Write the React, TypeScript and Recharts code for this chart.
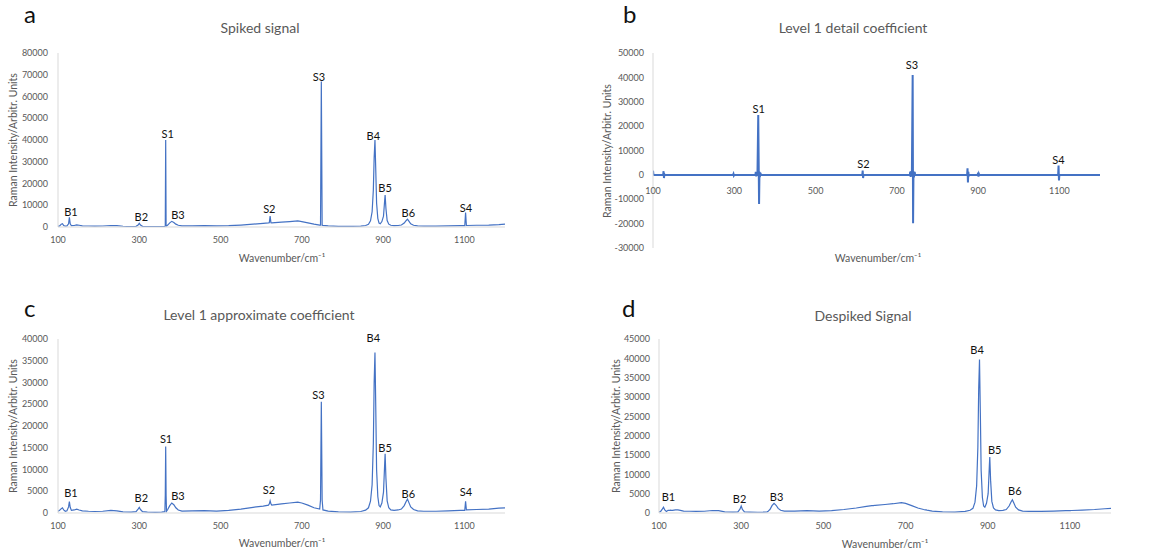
import { LineChart, Line, XAxis, YAxis, ReferenceDot, ReferenceLine } from 'recharts';

const FONT = 'Lato, "Open Sans", sans-serif';
const LINE_COLOR = '#4472C4';
const TEXT_GRAY = '#595959';
const AXIS_GRAY = '#d9d9d9';

// shared wavenumber grid for the spiked / approximate / despiked spectra
const wavenumber = [
  100, 104, 108, 111, 114, 118, 122, 126, 128, 130,
  133, 140, 146, 152, 160, 175, 190, 210, 230, 245,
  260, 280, 292, 297, 300, 303, 308, 320, 340, 355,
  363, 364, 365, 366, 367, 370, 375, 380, 385, 390,
  396, 405, 430, 460, 490, 520, 550, 580, 605, 618,
  620, 622, 624, 626, 650, 670, 690, 700, 715, 730,
  744, 746, 748, 750, 752, 765, 790, 820, 845, 857,
  864, 869, 873, 876, 878, 880, 882, 884, 887, 890,
  893, 897, 901, 904, 905, 907, 910, 914, 919, 927,
  937, 945, 952, 957, 960, 963, 968, 975, 985, 1000,
  1030, 1060, 1090, 1101, 1103, 1105, 1130, 1160, 1185, 1200,
];

const spiked = [
  300, 500, 1300, 1500, 700, 400, 500, 1500, 4400, 1500,
  600, 700, 1000, 800, 500, 450, 400, 450, 700, 650,
  350, 200, 300, 900, 1700, 900, 300, 200, 150, 200,
  300, 500, 40000, 500, 400, 900, 1900, 2600, 2100, 1300,
  800, 500, 550, 600, 500, 600, 900, 1300, 1700, 1900,
  2000, 5000, 2000, 1900, 2200, 2500, 2800, 2500, 1900, 1300,
  900, 850, 66900, 800, 750, 500, 300, 250, 400, 700,
  1200, 2800, 7000, 17000, 32000, 40000, 26000, 11000, 4000, 1800,
  1500, 2500, 5000, 12500, 14700, 8500, 3000, 1300, 800, 600,
  700, 900, 1800, 3000, 3600, 2800, 1500, 800, 500, 400,
  400, 500, 600, 600, 6600, 700, 800, 900, 1100, 1300,
];

const approx = [
  400, 600, 1000, 1200, 700, 400, 500, 1400, 2600, 1300,
  600, 700, 900, 700, 500, 400, 350, 400, 600, 500,
  250, 200, 300, 900, 1300, 800, 300, 200, 150, 200,
  300, 4000, 15300, 4000, 400, 800, 1700, 2300, 1900, 1200,
  700, 450, 500, 550, 450, 600, 900, 1300, 1600, 1800,
  2100, 2800, 2100, 1800, 2100, 2300, 2500, 2300, 1800, 1200,
  900, 3000, 25600, 3000, 700, 450, 250, 200, 350, 650,
  1200, 2700, 6500, 16000, 30000, 36900, 24000, 10000, 3800, 1700,
  1400, 2300, 4800, 11500, 13600, 8000, 2800, 1200, 700, 600,
  700, 900, 1700, 2700, 3200, 2500, 1400, 800, 500, 400,
  400, 500, 600, 600, 2700, 700, 800, 900, 1100, 1200,
];

const despiked = [
  300, 400, 1000, 1500, 800, 400, 700, 700, 750, 700,
  700, 800, 800, 700, 500, 450, 400, 450, 650, 600,
  300, 250, 300, 1000, 1800, 900, 300, 250, 200, 250,
  300, 350, 400, 500, 600, 900, 1900, 2500, 2000, 1200,
  700, 500, 500, 600, 500, 600, 900, 1300, 1700, 1900,
  1900, 1900, 2000, 1950, 2200, 2400, 2700, 2500, 1900, 1300,
  900, 850, 800, 800, 750, 500, 300, 250, 400, 700,
  1200, 2800, 7000, 17000, 32000, 39700, 26000, 11000, 4000, 1800,
  1500, 2500, 5000, 12300, 14500, 8500, 3000, 1300, 800, 600,
  700, 900, 1800, 2900, 3400, 2700, 1500, 800, 500, 400,
  400, 500, 600, 600, 650, 650, 750, 900, 1100, 1200,
];

// level 1 detail coefficient has its own grid
const detailWavenumber = [
  100, 101, 103, 125, 126, 127, 128, 129,
  297, 298, 299, 300,
  352, 353, 354, 355, 357, 359, 361, 362, 363, 364, 366,
  615, 616, 617, 618,
  732, 733, 734, 735, 737, 739, 740, 741, 742, 744, 745,
  873, 874, 875, 876, 877, 878,
  899, 900, 901, 902, 903,
  1097, 1098, 1099, 1100,
  1200,
];

const detail = [
  1700, 200, 0, 0, 1500, -1300, 300, 0,
  0, 400, -300, 0,
  0, 1200, -600, 900, -400, 24600, -11900, 1200, -900, 800, 0,
  0, 1800, -1300, 0,
  0, 1300, -800, 1500, -600, 41000, -19800, 1500, -1000, 1200, 0,
  0, 2700, -3100, 1200, -600, 0,
  0, 900, -700, 400, 0,
  0, 3800, -2300, 0,
  0,
];

const xTicks = [100, 300, 500, 700, 900, 1100];
const spikedTicks = [0, 10000, 20000, 30000, 40000, 50000, 60000, 70000, 80000];
const detailTicks = [-30000, -20000, -10000, 0, 10000, 20000, 30000, 40000, 50000];
const approxTicks = [0, 5000, 10000, 15000, 20000, 25000, 30000, 35000, 40000];
const despikedTicks = [0, 5000, 10000, 15000, 20000, 25000, 30000, 35000, 40000, 45000];

type PeakLabel = { name: string; x: number; y: number };

const spikedLabels: PeakLabel[] = [
  { name: 'B1', x: 132, y: 6900 },
  { name: 'B2', x: 305, y: 4750 },
  { name: 'S1', x: 370, y: 42700 },
  { name: 'B3', x: 395, y: 5500 },
  { name: 'S2', x: 620, y: 8150 },
  { name: 'S3', x: 742, y: 68800 },
  { name: 'B4', x: 876, y: 41900 },
  { name: 'B5', x: 905, y: 17800 },
  { name: 'B6', x: 962, y: 6300 },
  { name: 'S4', x: 1104, y: 8900 },
];

const detailLabels: PeakLabel[] = [
  { name: 'S1', x: 360, y: 26900 },
  { name: 'S2', x: 618, y: 4500 },
  { name: 'S3', x: 737, y: 45000 },
  { name: 'S4', x: 1098, y: 5900 },
];

const approxLabels: PeakLabel[] = [
  { name: 'B1', x: 132, y: 4530 },
  { name: 'B2', x: 305, y: 3520 },
  { name: 'S1', x: 366, y: 17000 },
  { name: 'B3', x: 395, y: 3900 },
  { name: 'S2', x: 619, y: 5300 },
  { name: 'S3', x: 741, y: 27000 },
  { name: 'B4', x: 876, y: 40300 },
  { name: 'B5', x: 905, y: 15000 },
  { name: 'B6', x: 962, y: 4370 },
  { name: 'S4', x: 1104, y: 4900 },
];

const despikedLabels: PeakLabel[] = [
  { name: 'B1', x: 123, y: 4200 },
  { name: 'B2', x: 296, y: 3600 },
  { name: 'B3', x: 386, y: 4200 },
  { name: 'B4', x: 874, y: 42150 },
  { name: 'B5', x: 917, y: 16300 },
  { name: 'B6', x: 966, y: 5700 },
];

const tickStyle = { fill: TEXT_GRAY, fontSize: 9, fontFamily: FONT };

// x tick labels that sit just under the zero line (panel b)
const ZeroLineTick = (props: any) => {
  const { x, y, payload } = props;
  return (
    <text x={x} y={y - 64} textAnchor="middle" fill={TEXT_GRAY} fontSize={9} fontFamily={FONT}>
      {payload.value}
    </text>
  );
};

type PanelProps = {
  left: number;
  top: number;
  width: number;
  height: number;
  margin: { top: number; right: number; bottom: number; left: number };
  yAxisWidth: number;
  xAxisHeight: number;
  xs: number[];
  ys: number[];
  yDomain: [number, number];
  yTicks: number[];
  labels: PeakLabel[];
  strokeWidth: number;
  zeroAxis?: boolean;
  yTickMargin: number;
};

function Panel(p: PanelProps) {
  const data = p.xs.map((w, i) => ({ w, v: p.ys[i] }));
  return (
    <div style={{ position: 'absolute', left: p.left, top: p.top }}>
      <LineChart width={p.width} height={p.height} data={data} margin={p.margin}>
        <XAxis
          dataKey="w"
          type="number"
          domain={[100, 1200]}
          ticks={xTicks}
          interval={0}
          allowDataOverflow
          height={p.xAxisHeight}
          tickLine={false}
          axisLine={p.zeroAxis ? false : { stroke: AXIS_GRAY }}
          tick={p.zeroAxis ? ZeroLineTick : tickStyle}
          tickMargin={4}
        />
        <YAxis
          type="number"
          domain={p.yDomain}
          ticks={p.yTicks}
          interval={0}
          allowDataOverflow
          width={p.yAxisWidth}
          tickLine={false}
          axisLine={{ stroke: AXIS_GRAY }}
          tick={tickStyle}
          tickMargin={p.yTickMargin}
        />
        {p.zeroAxis && <ReferenceLine y={0} stroke={AXIS_GRAY} />}
        <Line
          dataKey="v"
          type="linear"
          stroke={LINE_COLOR}
          strokeWidth={p.strokeWidth}
          dot={false}
          isAnimationActive={false}
        />
        {p.labels.map((l) => (
          <ReferenceDot
            key={l.name}
            x={l.x}
            y={l.y}
            r={0}
            ifOverflow="visible"
            fill="none"
            stroke="none"
            label={{ value: l.name, position: 'center', fill: '#111', fontSize: 11, fontFamily: FONT }}
          />
        ))}
      </LineChart>
    </div>
  );
}

const Y_TITLE = 'Raman Intensity/Arbitr. Units';
const X_TITLE = 'Wavenumber/cm⁻¹';

export default function App() {
  return (
    <div
      style={{
        position: 'absolute',
        left: 0,
        top: 0,
        width: 1171,
        height: 552,
        background: '#fff',
        overflow: 'hidden',
      }}
    >
      <Panel
        left={0}
        top={0}
        width={585}
        height={275}
        margin={{ top: 53, right: 80, bottom: 0, left: 0 }}
        yAxisWidth={58}
        xAxisHeight={48}
        xs={wavenumber}
        ys={spiked}
        yDomain={[0, 80000]}
        yTicks={spikedTicks}
        labels={spikedLabels}
        strokeWidth={1.2}
        yTickMargin={4}
      />
      <Panel
        left={585}
        top={0}
        width={586}
        height={275}
        margin={{ top: 53, right: 71, bottom: 0, left: 0 }}
        yAxisWidth={68}
        xAxisHeight={27}
        xs={detailWavenumber}
        ys={detail}
        yDomain={[-30000, 50000]}
        yTicks={detailTicks}
        labels={detailLabels}
        strokeWidth={2}
        zeroAxis
        yTickMargin={3}
      />
      <Panel
        left={0}
        top={275}
        width={585}
        height={277}
        margin={{ top: 64, right: 80, bottom: 0, left: 0 }}
        yAxisWidth={58}
        xAxisHeight={39}
        xs={wavenumber}
        ys={approx}
        yDomain={[0, 40000]}
        yTicks={approxTicks}
        labels={approxLabels}
        strokeWidth={1.2}
        yTickMargin={4}
      />
      <Panel
        left={585}
        top={275}
        width={586}
        height={277}
        margin={{ top: 64, right: 60, bottom: 0, left: 0 }}
        yAxisWidth={74}
        xAxisHeight={39}
        xs={wavenumber}
        ys={despiked}
        yDomain={[0, 45000]}
        yTicks={despikedTicks}
        labels={despikedLabels}
        strokeWidth={1.2}
        yTickMargin={3}
      />
      <svg
        width={1171}
        height={552}
        style={{ position: 'absolute', left: 0, top: 0, pointerEvents: 'none' }}
        fontFamily={FONT}
      >
        <text x={24} y={23} fontSize={24} fill="#111">a</text>
        <text x={623} y={23} fontSize={24} fill="#111">b</text>
        <text x={24} y={317} fontSize={24} fill="#111">c</text>
        <text x={622} y={317} fontSize={24} fill="#111">d</text>

        <text x={260} y={33} fontSize={14} fill={TEXT_GRAY} textAnchor="middle">Spiked signal</text>
        <text x={853} y={33} fontSize={14} fill={TEXT_GRAY} textAnchor="middle">Level 1 detail coefficient</text>
        <text x={259} y={320} fontSize={14} fill={TEXT_GRAY} textAnchor="middle">Level 1 approximate coefficient</text>
        <text x={863} y={321} fontSize={14} fill={TEXT_GRAY} textAnchor="middle">Despiked Signal</text>

        <text x={282} y={258} fontSize={10.5} fill={TEXT_GRAY} textAnchor="middle" dominantBaseline="central">{X_TITLE}</text>
        <text x={878} y={258} fontSize={10.5} fill={TEXT_GRAY} textAnchor="middle" dominantBaseline="central">{X_TITLE}</text>
        <text x={282} y={543} fontSize={10.5} fill={TEXT_GRAY} textAnchor="middle" dominantBaseline="central">{X_TITLE}</text>
        <text x={885} y={544} fontSize={10.5} fill={TEXT_GRAY} textAnchor="middle" dominantBaseline="central">{X_TITLE}</text>

        <text x={13} y={140} fontSize={10.5} fill={TEXT_GRAY} textAnchor="middle" dominantBaseline="central" transform="rotate(-90 13 140)">{Y_TITLE}</text>
        <text x={607} y={151} fontSize={10.5} fill={TEXT_GRAY} textAnchor="middle" dominantBaseline="central" transform="rotate(-90 607 151)">{Y_TITLE}</text>
        <text x={13} y={426} fontSize={10.5} fill={TEXT_GRAY} textAnchor="middle" dominantBaseline="central" transform="rotate(-90 13 426)">{Y_TITLE}</text>
        <text x={616} y={426} fontSize={10.5} fill={TEXT_GRAY} textAnchor="middle" dominantBaseline="central" transform="rotate(-90 616 426)">{Y_TITLE}</text>
      </svg>
    </div>
  );
}
